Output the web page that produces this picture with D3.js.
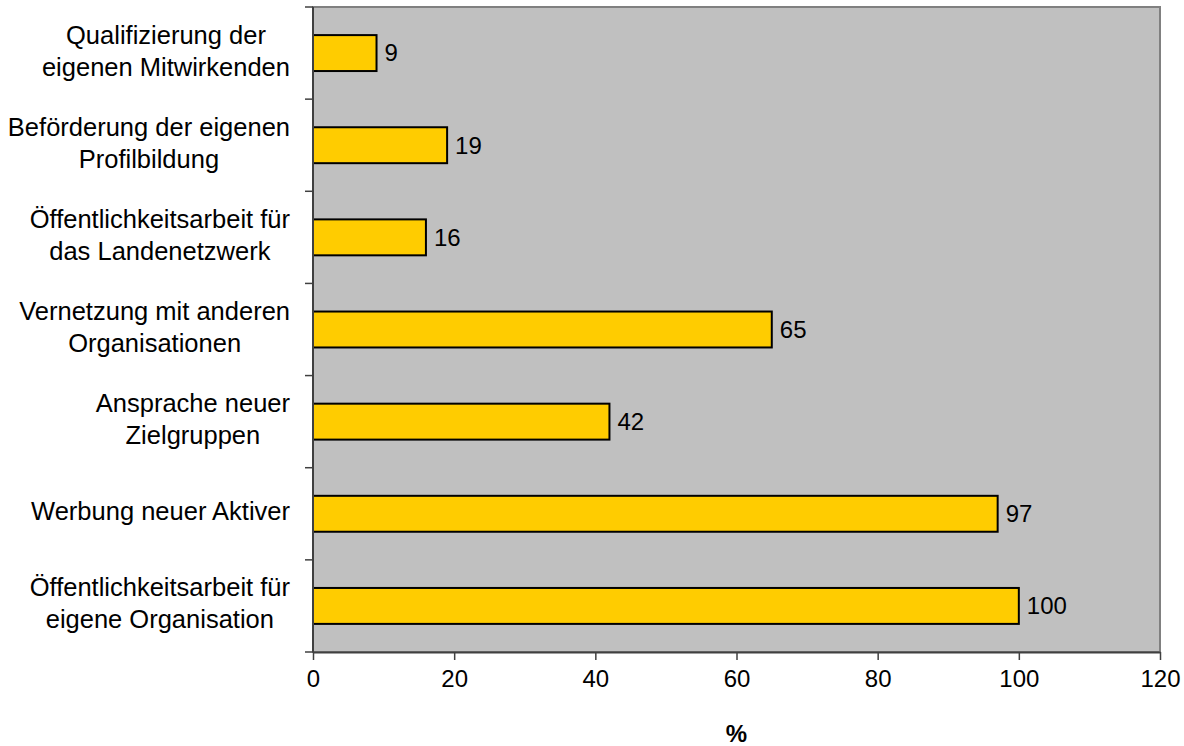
<!DOCTYPE html>
<html>
<head>
<meta charset="utf-8">
<script src="https://cdn.jsdelivr.net/npm/d3@7"></script>
<style>
  body { margin: 0; background: #fff; }
  svg text { font-family: "Liberation Sans", Arial, sans-serif; fill: #000; }
</style>
</head>
<body>
<svg width="1184" height="746"></svg>
<script>
// categories top to bottom, each split into display lines
const categories = [
  ["Qualifizierung der", "eigenen Mitwirkenden"],
  ["Beförderung der eigenen", "Profilbildung"],
  ["Öffentlichkeitsarbeit für", "das Landenetzwerk"],
  ["Vernetzung mit anderen", "Organisationen"],
  ["Ansprache neuer", "Zielgruppen"],
  ["Werbung neuer Aktiver"],
  ["Öffentlichkeitsarbeit für", "eigene Organisation"]
];
const values = [9, 19, 16, 65, 42, 97, 100];
const xTicks = [0, 20, 40, 60, 80, 100, 120];
const xLabel = "%";

const plotLeft = 313, plotRight = 1160, plotTop = 7, plotBottom = 652;
const labelRight = 290;
const svg = d3.select("svg");

const xs = d3.scaleLinear().domain([0, 120]).range([plotLeft, plotRight]);
const ys = d3.scaleBand().domain(d3.range(categories.length)).range([plotTop, plotBottom]).paddingInner(0.61).paddingOuter(0.305);
const yBands = d3.scaleBand().domain(d3.range(categories.length)).range([plotTop, plotBottom]);

// plot area
svg.append("rect")
  .attr("x", plotLeft).attr("y", plotTop)
  .attr("width", plotRight - plotLeft).attr("height", plotBottom - plotTop)
  .attr("fill", "#c0c0c0")
  .attr("stroke", "#808080").attr("stroke-width", 2);

// bars
svg.append("g").selectAll("rect")
  .data(values)
  .enter()
  .append("rect")
  .attr("x", xs(0))
  .attr("y", (d, i) => ys(i))
  .attr("width", d => xs(d) - xs(0))
  .attr("height", ys.bandwidth())
  .attr("fill", "#ffcc00")
  .attr("stroke", "#000")
  .attr("stroke-width", 2);

// value labels
svg.append("g").selectAll("text")
  .data(values)
  .enter()
  .append("text")
  .attr("x", d => xs(d) + 8)
  .attr("y", (d, i) => ys(i) + ys.bandwidth() / 2)
  .attr("dy", "0.35em")
  .attr("font-size", 24)
  .text(d => d);

// y axis: line and ticks at band edges
const yAxis = svg.append("g");
yAxis.append("line")
  .attr("x1", plotLeft).attr("x2", plotLeft).attr("y1", plotTop).attr("y2", plotBottom)
  .attr("stroke", "#404040").attr("stroke-width", 2);
yAxis.selectAll(".tick")
  .data(d3.range(categories.length + 1))
  .enter()
  .append("line")
  .attr("x1", plotLeft - 8).attr("x2", plotLeft)
  .attr("y1", i => plotTop + i * yBands.step())
  .attr("y2", i => plotTop + i * yBands.step())
  .attr("stroke", "#404040").attr("stroke-width", 1.5);

// category labels: lines centred in a block right-aligned to the axis
const lh = 32;
svg.append("g").selectAll("text")
  .data(categories)
  .enter()
  .append("text")
  .attr("text-anchor", "middle")
  .attr("font-size", 25.5)
  .each(function(lines, i) {
    const t = d3.select(this);
    const mid = yBands(i) + yBands.bandwidth() / 2 + 6.5;
    const spans = lines.map((ln, k) => t.append("tspan")
      .attr("y", mid - (lines.length - 1) * lh / 2 + k * lh)
      .text(ln));
    const w = d3.max(spans, s => s.node().getComputedTextLength());
    spans.forEach(s => s.attr("x", labelRight - w / 2));
  });

// x axis
const xAxis = svg.append("g")
  .attr("transform", "translate(0," + plotBottom + ")")
  .call(d3.axisBottom(xs).tickValues(xTicks).tickSize(8).tickPadding(10).tickSizeOuter(0));
xAxis.select(".domain").attr("stroke", "#404040").attr("stroke-width", 2);
xAxis.selectAll(".tick line").attr("stroke", "#404040").attr("stroke-width", 1.5);
xAxis.selectAll(".tick text")
  .attr("font-size", 24)
  .attr("font-family", "Liberation Sans, Arial, sans-serif")
  .attr("fill", "#000");

svg.append("text")
  .attr("x", (plotLeft + plotRight) / 2)
  .attr("y", 742)
  .attr("text-anchor", "middle")
  .attr("font-size", 24)
  .attr("font-weight", "bold")
  .text(xLabel);
</script>
</body>
</html>
